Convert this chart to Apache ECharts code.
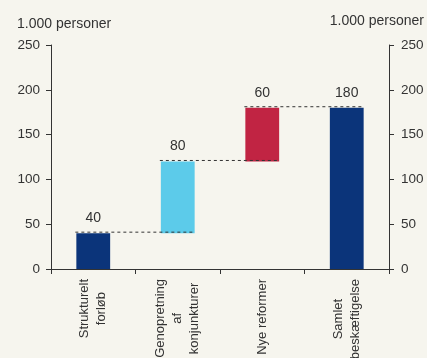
<!DOCTYPE html>
<html>
<head>
<meta charset="utf-8">
<script src="https://cdn.jsdelivr.net/npm/echarts@6/dist/echarts.min.js"></script>
<style>
  html, body { margin: 0; padding: 0; background: #f6f5ee; }
  #chart { width: 427px; height: 358px; }
</style>
</head>
<body>
<div id="chart"></div>
<script>
var categories = ['Strukturelt\nforløb', 'Genopretning\naf\nkonjunkturer', 'Nye reformer', 'Samlet\nbeskæftigelse']
var baseValues = [0, 40, 120, 0]
var barValues = [40, 80, 60, 180]
var barColors = ['#0b347a', '#5ccbea', '#c12443', '#0b347a']
var yTicks = { min: 0, max: 250, interval: 50 }
var unitName = '1.000 personer'

// levels where each dashed connector sits (top of bar i)
var levels = baseValues.map(function (b, i) { return b + barValues[i] })
var connectors = []
for (var i = 0; i < categories.length - 1; i++) {
  connectors.push([i, levels[i]])
}

var textColor = '#333'
var font = 'Liberation Sans, Arial, sans-serif'

var chart = echarts.init(document.getElementById('chart'))

chart.setOption({
  backgroundColor: '#f6f5ee',
  animation: false,
  grid: { left: 51, right: 38, top: 45, bottom: 89, outerBoundsMode: 'none' },
  xAxis: {
    type: 'category',
    data: categories,
    axisLine: { lineStyle: { color: '#333', width: 1 } },
    axisTick: { show: true, alignWithLabel: false, length: 5, lineStyle: { color: '#333' } },
    axisLabel: {
      rotate: 90,
      margin: 10,
      interval: 0,
      color: textColor,
      fontFamily: font,
      fontSize: 13,
      lineHeight: 17,
      // center the lines against each other, block still hangs from the axis
      formatter: function (v) {
        return v.split('\n').map(function (s) { return '{c|' + s + '}' }).join('\n')
      },
      rich: {
        c: { align: 'center', color: textColor, fontFamily: font, fontSize: 13, lineHeight: 17 }
      }
    }
  },
  yAxis: [
    {
      type: 'value',
      min: yTicks.min, max: yTicks.max, interval: yTicks.interval,
      name: unitName,
      nameLocation: 'end',
      nameGap: 14,
      nameTextStyle: { color: textColor, fontFamily: font, fontSize: 14, align: 'left', padding: [0, 0, 0, -34] },
      axisLine: { show: true, lineStyle: { color: '#333' } },
      axisTick: { show: true, length: 5, lineStyle: { color: '#333' } },
      axisLabel: { color: textColor, fontFamily: font, fontSize: 13.5, margin: 11 },
      splitLine: { show: false }
    },
    {
      type: 'value',
      position: 'right',
      min: yTicks.min, max: yTicks.max, interval: yTicks.interval,
      name: unitName,
      nameLocation: 'end',
      nameGap: 17,
      nameTextStyle: { color: textColor, fontFamily: font, fontSize: 14, align: 'right', padding: [0, -35, 0, 0] },
      axisLine: { show: true, lineStyle: { color: '#333' } },
      axisTick: { show: true, length: 5, lineStyle: { color: '#333' } },
      axisLabel: { color: textColor, fontFamily: font, fontSize: 13.5, margin: 12 },
      splitLine: { show: false }
    }
  ],
  series: [
    {
      name: 'base',
      type: 'bar',
      stack: 'w',
      barWidth: '40%',
      itemStyle: { color: 'transparent' },
      data: baseValues,
      silent: true
    },
    {
      name: 'value',
      type: 'bar',
      stack: 'w',
      barWidth: '40%',
      data: barValues.map(function (v, i) {
        return { value: v, itemStyle: { color: barColors[i] } }
      }),
      label: {
        show: true,
        position: 'top',
        distance: 8,
        color: textColor,
        fontFamily: font,
        fontSize: 14
      }
    },
    {
      name: 'connectors',
      type: 'custom',
      data: connectors,
      z: 5,
      renderItem: function (params, api) {
        var idx = api.value(0)
        var lvl = api.value(1)
        var band = api.size([1, 0])[0]
        var p1 = api.coord([idx, lvl])
        var p2 = api.coord([idx + 1, lvl])
        var half = band * 0.2
        return {
          type: 'line',
          shape: { x1: p1[0] - half - 1, y1: p1[1] - 1, x2: p2[0] + half, y2: p2[1] - 1 },
          style: { stroke: '#333', lineWidth: 1, lineDash: [3, 3] }
        }
      }
    }
  ]
})
</script>
</body>
</html>
